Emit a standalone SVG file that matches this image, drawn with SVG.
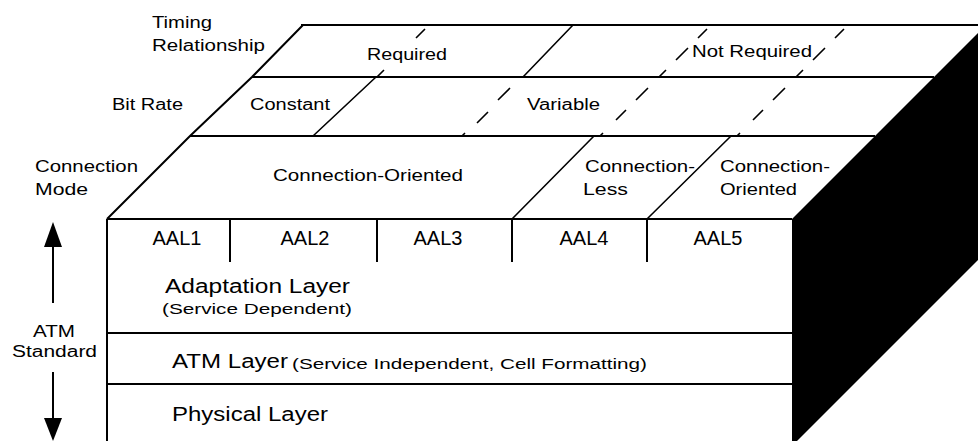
<svg xmlns="http://www.w3.org/2000/svg" width="978" height="441" viewBox="0 0 978 441">
<style>
.ln{stroke:#000;stroke-width:2;fill:none}
.sl{stroke:#000;stroke-width:1.6;fill:none}
.t{font-family:"Liberation Sans",Arial,sans-serif;fill:#000}
.lb{font-size:16px}
.big{font-size:20px}
.sm{font-size:14px}
</style>
<rect width="978" height="441" fill="#fff"/>
<g id="side-face">
<polygon points="792,219 986,25 986,252 792,446" fill="#000"/>
</g>
<g id="connectors">
<path class="ln" d="M301,25H986M252,77H934M190,136H875M107,219H792"/>
<path class="ln" d="M107,219L190,136L252,77L303,25"/>
<path class="ln" d="M107,219V441"/>
<path class="ln" d="M107,333H792M107,384H792"/>
<path class="ln" d="M230,219V262M377,219V262M512,219V262M647,219V262"/>
<path class="sl" d="M313,136L376,77M523,77L573,25M512,219L594,136M647,219L731,136"/>
<path class="sl" d="M600,136L603,133M616,120L626,110M636,100L648,88M659,77L666,70M676,60L688,48M698,38L707,29"/>
<path class="sl" d="M737,136L740,133M753,120L763,110M773,100L785,88M796,77L803,70M813,60L825,48M835,38L844,29"/>
<path class="sl" d="M462,136L465,133M477,123L488,112M498,100L510,88"/>
<path class="sl" d="M377,77L384,70M416,38L425,29"/>
<path class="ln" d="M53,240V303M53,372V425"/>
<polygon points="53,222 44,247 62,247" fill="#000"/>
<polygon points="44,418 62,418 53,441" fill="#000"/>
</g>
<g id="label-timing">
<text class="t lb" x="152" y="28" textLength="60" lengthAdjust="spacingAndGlyphs">Timing</text>
<text class="t lb" x="152" y="51" textLength="113" lengthAdjust="spacingAndGlyphs">Relationship</text>
</g>
<g id="label-bitrate"><text class="t lb" x="112" y="110" textLength="71" lengthAdjust="spacingAndGlyphs">Bit Rate</text></g>
<g id="label-connmode">
<text class="t lb" x="35" y="172" textLength="103" lengthAdjust="spacingAndGlyphs">Connection</text>
<text class="t lb" x="35" y="195" textLength="53" lengthAdjust="spacingAndGlyphs">Mode</text>
</g>
<g id="label-atm">
<text class="t lb" x="33" y="337" textLength="42" lengthAdjust="spacingAndGlyphs">ATM</text>
<text class="t lb" x="12" y="357" textLength="85" lengthAdjust="spacingAndGlyphs">Standard</text>
</g>
<g id="required"><text class="t lb" x="367" y="60" textLength="80" lengthAdjust="spacingAndGlyphs">Required</text></g>
<g id="not-required"><text class="t lb" x="692" y="57" textLength="120" lengthAdjust="spacingAndGlyphs">Not Required</text></g>
<g id="constant"><text class="t lb" x="250" y="110" textLength="80" lengthAdjust="spacingAndGlyphs">Constant</text></g>
<g id="variable"><text class="t lb" x="527" y="110" textLength="73" lengthAdjust="spacingAndGlyphs">Variable</text></g>
<g id="conn-oriented"><text class="t lb" x="273" y="181" textLength="190" lengthAdjust="spacingAndGlyphs">Connection-Oriented</text></g>
<g id="conn-less">
<text class="t lb" x="585" y="172" textLength="110" lengthAdjust="spacingAndGlyphs">Connection-</text>
<text class="t lb" x="583" y="195" textLength="45" lengthAdjust="spacingAndGlyphs">Less</text>
</g>
<g id="conn-oriented2">
<text class="t lb" x="720" y="172" textLength="110" lengthAdjust="spacingAndGlyphs">Connection-</text>
<text class="t lb" x="720" y="195" textLength="77" lengthAdjust="spacingAndGlyphs">Oriented</text>
</g>
<g id="aal1"><text class="t big" x="177" y="245" text-anchor="middle">AAL1</text></g>
<g id="aal2"><text class="t big" x="305" y="245" text-anchor="middle">AAL2</text></g>
<g id="aal3"><text class="t big" x="438" y="245" text-anchor="middle">AAL3</text></g>
<g id="aal4"><text class="t big" x="584" y="245" text-anchor="middle">AAL4</text></g>
<g id="aal5"><text class="t big" x="718" y="245" text-anchor="middle">AAL5</text></g>
<g id="adaptation-layer">
<text class="t big" x="165" y="293" textLength="185" lengthAdjust="spacingAndGlyphs">Adaptation Layer</text>
<text class="t sm" x="162" y="314" textLength="190" lengthAdjust="spacingAndGlyphs">(Service Dependent)</text>
</g>
<g id="atm-layer">
<text class="t big" x="172" y="368" textLength="116" lengthAdjust="spacingAndGlyphs">ATM Layer</text>
<text class="t sm" x="292" y="369" textLength="355" lengthAdjust="spacingAndGlyphs">(Service Independent, Cell Formatting)</text>
</g>
<g id="physical-layer"><text class="t big" x="172" y="421" textLength="156" lengthAdjust="spacingAndGlyphs">Physical Layer</text></g>
</svg>
